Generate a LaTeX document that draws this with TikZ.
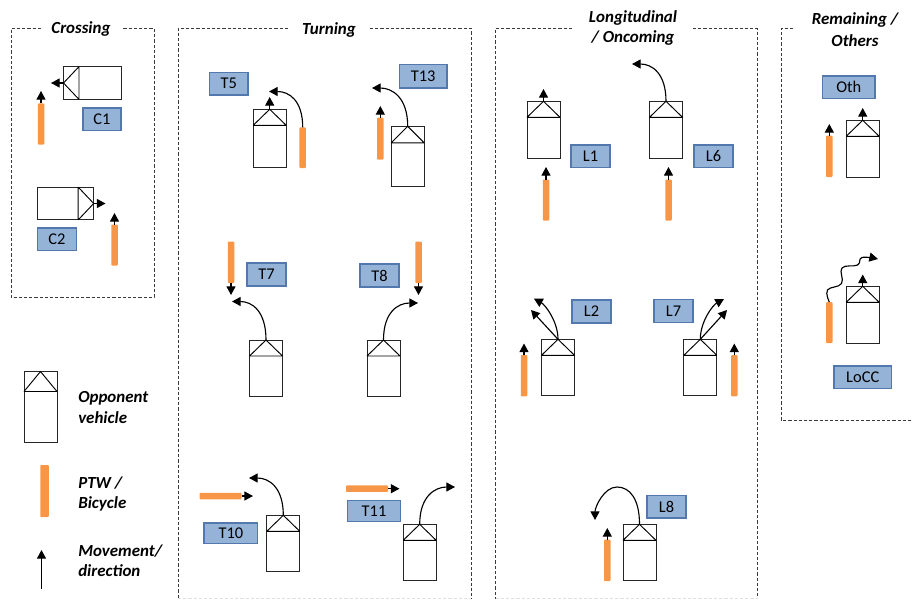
\documentclass[tikz,border=0pt]{standalone}
\usepackage{fontspec}
\setmainfont{Carlito}
\usetikzlibrary{arrows.meta}
\def\px{0.75pt}
\definecolor{bikeorange}{HTML}{F79646}
\definecolor{labelfill}{HTML}{95B3D7}
\definecolor{labeledge}{HTML}{5278AE}
\definecolor{framegray}{HTML}{3A3A3A}
\tikzset{
  carbox/.style={draw=black!85,line width=0.75pt,fill=white,inner sep=0pt,outer sep=0pt,minimum width=33*\px},
  carline/.style={draw=black,line width=0.7pt},
  bikebar/.style={fill=bikeorange,draw=none,rounded corners=0.7pt,inner sep=0pt,outer sep=0pt},
  mv/.style={draw=black,line width=0.85pt,-{Triangle[length=6.5pt,width=6.8pt]}},
  codebox/.style={draw=labeledge,line width=0.8pt,fill=labelfill,inner sep=0pt,outer sep=0pt,font=\fontsize{12.3}{12.3}\selectfont},
  framedash/.style={draw=framegray,line width=0.75pt,dash pattern=on 2.4pt off 1.5pt},
  head/.style={font=\fontsize{12.7}{14}\selectfont\bfseries\itshape,inner sep=0pt,align=center},
  legendtext/.style={font=\fontsize{12.7}{14}\selectfont\bfseries\itshape,inner sep=0pt,anchor=west},
}
% name, centre x, top, bottom
\newcommand{\carup}[5][16]{%
  \node[carbox,anchor=north,minimum height=(#5-#4)*\px] (#2) at (#3,#4) {};
  \coordinate (#2L) at ([yshift=-#1*\px]#2.north west);
  \coordinate (#2R) at ([yshift=-#1*\px]#2.north east);
  \draw[carline] (#2L) -- (#2R) (#2L) -- (#2.north) -- (#2R);
}
% name, centre x, top, bottom
\newcommand{\bikev}[5][6.5]{%
  \node[bikebar,anchor=north,minimum width=#1*\px,minimum height=(#5-#4)*\px] (#2) at (#3,#4) {};
}
% name, left, right, centre y
\newcommand{\bikeh}[4]{%
  \node[bikebar,anchor=west,minimum height=6.5*\px,minimum width=(#3-#2)*\px] (#1) at (#2,#4) {};
}
% name, x1, y1, x2, y2, text
\newcommand{\codelab}[6]{%
  \node[codebox,minimum width=(#4-#2)*\px,minimum height=(#5-#3)*\px] (#1) at ({(#2+#4)/2},{(#3+#5)/2}) {#6};
}
\begin{document}
\begin{tikzpicture}[x=0.75pt,y=-0.75pt]
\useasboundingbox (0,0) rectangle (912,599);
% frames
\draw[framedash] (41,28.5) -- (11,28.5) -- (11,297.5) -- (154,297.5) -- (154,28.5) -- (123,28.5);
\draw[framedash] (288,28.5) -- (178,28.5) -- (178,599);
\draw[framedash] (370,28.5) -- (471,28.5) -- (471,599);
\draw[framedash] (572,28.5) -- (495.5,28.5) -- (495.5,599);
\draw[framedash] (693,28.5) -- (757.5,28.5) -- (757.5,599);
\draw[framedash] (793,28.5) -- (781,28.5) -- (781,420) -- (912,420);
\draw[black!12,line width=0.6pt,dash pattern=on 2.4pt off 1.5pt] (178,598) -- (471,598) (495.5,598) -- (757.5,598);
% headers
\node[head] (hC) at (81,29) {Crossing};
\node[head] (hT) at (329,29.5) {Turning};
\node[head] (hL) at (633,18) {Longitudinal};
\node[head] (hL2) at (633,38) {/ Oncoming};
\node[head] (hR) at (855,20) {Remaining /};
\node[head] (hR2) at (855,41) {Others};
% Legend
\carup[20]{vLeg}{40.5}{371.5}{442}
\bikev[8.5]{bLeg}{44.5}{465}{517}
\coordinate (aLegS) at (41.5,589);
\coordinate (aLegE) at (41.5,550);
\draw[mv] (aLegS) -- (aLegE);
\node[legendtext] (t1) at (78,398) {Opponent};
\node[legendtext] (t2) at (78,418) {vehicle};
\node[legendtext] (t3) at (78,483) {PTW /};
\node[legendtext] (t4) at (78,504) {Bicycle};
\node[legendtext] (t5) at (78,551) {Movement/};
\node[legendtext] (t6) at (78,571) {direction};
% C1
\node[carbox,anchor=west,minimum width=57.5*\px,minimum height=32.8*\px] (vC1) at (63.5,83) {};
\coordinate (vC1a) at ([xshift=15.5*\px]vC1.north west);
\coordinate (vC1b) at ([xshift=15.5*\px]vC1.south west);
\draw[carline] (vC1a) -- (vC1b) (vC1a) -- (vC1.west) -- (vC1b);
\coordinate (aC1c) at (51,83);
\draw[mv] (vC1.west) -- (aC1c);
\bikev{bC1}{41}{103.5}{144.5}
\coordinate (aC1b) at (41,91);
\draw[mv] (bC1.north) -- (aC1b);
\codelab{C1}{83}{108}{121}{130.5}{C1}
% C2
\node[carbox,anchor=east,minimum width=56.2*\px,minimum height=32.8*\px] (vC2) at (93.7,203.5) {};
\coordinate (vC2a) at ([xshift=-15.5*\px]vC2.north east);
\coordinate (vC2b) at ([xshift=-15.5*\px]vC2.south east);
\draw[carline] (vC2a) -- (vC2b) (vC2a) -- (vC2.east) -- (vC2b);
\coordinate (aC2c) at (105.5,203.5);
\draw[mv] (vC2.east) -- (aC2c);
\bikev{bC2}{114.5}{224.5}{265.5}
\coordinate (aC2b) at (114.5,213);
\draw[mv] (bC2.north) -- (aC2b);
\codelab{C2}{37.5}{228}{76.5}{250.5}{C2}
% T5
\carup{vT5}{269.7}{109.3}{167}
\bikev{bT5}{302.7}{127.3}{168}
\coordinate (aT5c) at (269.7,97);
\coordinate (aT5b) at (269,91.5);
\draw[mv] (vT5.north) -- (aT5c);
\draw[mv] (bT5.north) .. controls +(0,-27) and +(20,0) .. (aT5b);
\codelab{T5}{209.5}{72.5}{248}{95}{T5}
% T13
\carup[16.5]{vT13}{407.7}{126.3}{186}
\bikev{bT13}{380.3}{117.7}{159.5}
\coordinate (aT13b) at (380.3,106);
\coordinate (aT13c) at (372,88);
\draw[mv] (bT13.north) -- (aT13b);
\draw[mv] (vT13.north) .. controls +(0,-29) and +(20,0) .. (aT13c);
\codelab{T13}{399.3}{64.5}{447}{88}{T13}
% T7
\carup{vT7}{266}{340}{396.3}
\bikev{bT7}{231}{241.5}{283}
\coordinate (aT7b) at (231,295);
\coordinate (aT7c) at (232,301.5);
\draw[mv] (bT7.south) -- (aT7b);
\draw[mv] (vT7.north) .. controls +(0,-29) and +(20,0) .. (aT7c);
\codelab{T7}{247}{263}{286}{286}{T7}
% T8
\carup{vT8}{383.5}{340}{396.3}
\bikev{bT8}{418.5}{241.5}{283}
\coordinate (aT8b) at (418.5,295);
\coordinate (aT8c) at (418,303);
\draw[mv] (bT8.south) -- (aT8b);
\draw[mv] (vT8.north) .. controls +(0,-28) and +(-20,0) .. (aT8c);
\codelab{T8}{360}{264}{399}{287}{T8}
% T10
\carup{vT10}{283.3}{515.3}{571.3}
\bikeh{bT10}{199.5}{241.5}{496}
\coordinate (aT10b) at (253,496);
\coordinate (aT10c) at (249,478);
\draw[mv] (bT10.east) -- (aT10b);
\draw[mv] (vT10.north) .. controls +(0,-28) and +(20,0) .. (aT10c);
\codelab{T10}{204}{523}{257.7}{543.3}{T10}
% T11
\carup{vT11}{419.7}{524.3}{580.3}
\bikeh{bT11}{346}{388}{488.7}
\coordinate (aT11b) at (399.5,488.7);
\coordinate (aT11c) at (455,487);
\draw[mv] (bT11.east) -- (aT11b);
\draw[mv] (vT11.north) .. controls +(0,-28) and +(-20,0) .. (aT11c);
\codelab{T11}{347.3}{500.7}{400.7}{521.3}{T11}
% L1
\carup{vL1}{543.5}{101.3}{158}
\bikev{bL1}{546}{179.5}{220.5}
\coordinate (aL1c) at (543.5,89);
\coordinate (aL1b) at (546,167);
\draw[mv] (vL1.north) -- (aL1c);
\draw[mv] (bL1.north) -- (aL1b);
\codelab{L1}{571}{145}{610}{167.5}{L1}
% L6
\carup{vL6}{666}{101.3}{158}
\bikev{bL6}{668.5}{179.5}{220.5}
\coordinate (aL6c) at (632,64);
\coordinate (aL6b) at (668.5,167);
\draw[mv] (vL6.north) .. controls +(0,-28) and +(20,0) .. (aL6c);
\draw[mv] (bL6.north) -- (aL6b);
\codelab{L6}{694}{145}{733}{167.5}{L6}
% L2
\carup{vL2}{558}{339.3}{395.3}
\bikev{bL2}{524}{355}{396.3}
\coordinate (aL2b) at (524,343.5);
\coordinate (aL2s) at (531,310);
\coordinate (aL2k) at (534,298.7);
\draw[mv] (bL2.north) -- (aL2b);
\draw[mv] (vL2.north) -- (aL2s);
\draw[mv] (vL2.north) .. controls +(0,-18) and +(11,6) .. (aL2k);
\codelab{L2}{572}{300}{611}{323}{L2}
% L7
\carup{vL7}{700.3}{339.3}{395.3}
\bikev{bL7}{734.3}{355}{396.3}
\coordinate (aL7b) at (734.3,343.5);
\coordinate (aL7s) at (727,310);
\coordinate (aL7k) at (724,299);
\draw[mv] (bL7.north) -- (aL7b);
\draw[mv] (vL7.north) -- (aL7s);
\draw[mv] (vL7.north) .. controls +(0,-18) and +(-11,6) .. (aL7k);
\codelab{L7}{654}{299.5}{693}{322.5}{L7}
% L8
\carup{vL8}{639.5}{524.3}{580.3}
\bikev{bL8}{607.3}{539.7}{581}
\coordinate (aL8b) at (607.3,528);
\coordinate (aL8c) at (595,520);
\coordinate (aL8t) at (617,487);
\draw[mv] (bL8.north) -- (aL8b);
\draw[mv] (vL8.north) .. controls +(0,-25) and +(13,0) .. (aL8t) .. controls +(-13,0) and +(0,-13) .. (aL8c);
\codelab{L8}{647}{495.5}{686}{518}{L8}
% Oth
\carup{vOth}{862.7}{120.3}{177.7}
\bikev{bOth}{829.3}{135.7}{177}
\coordinate (aOthc) at (862.7,108);
\coordinate (aOthb) at (829.3,124);
\draw[mv] (vOth.north) -- (aOthc);
\draw[mv] (bOth.north) -- (aOthb);
\codelab{Oth}{822.5}{76}{875}{98.5}{Oth}
% LoCC
\carup{vLo}{862.7}{286.3}{343.7}
\bikev{bLo}{829.3}{302}{343}
\coordinate (aLoc) at (862.7,274.5);
\coordinate (w1) at (827.5,290);
\coordinate (w2) at (841.5,283.5);
\coordinate (w3) at (842,268);
\coordinate (w4) at (857.5,265);
\coordinate (w5) at (862,257.5);
\coordinate (aLob) at (878,259);
\draw[mv] (vLo.north) -- (aLoc);
\draw[mv] plot[smooth,tension=0.7] coordinates {(bLo.north) (w1) (w2) (w3) (w4) (w5) (aLob)};
\codelab{LoCC}{834}{366}{891.5}{388.5}{LoCC}
\end{tikzpicture}
\end{document}
